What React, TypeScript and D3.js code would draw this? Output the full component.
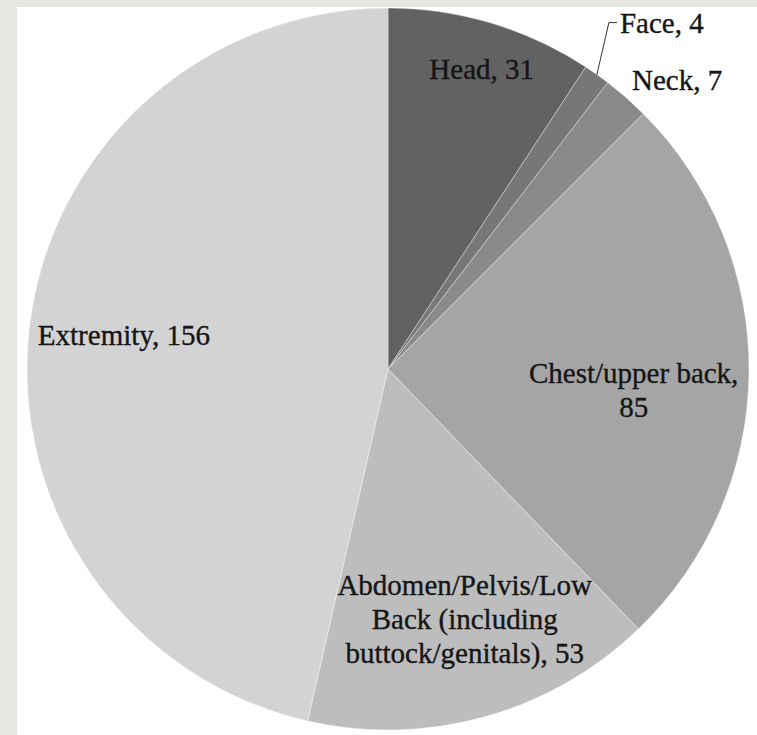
import React from "react";
import * as d3 from "d3";

const categories = ["Head", "Face", "Neck", "Chest/upper back", "Abdomen/Pelvis/Low Back (including buttock/genitals)", "Extremity"];
const values = [31, 4, 7, 85, 53, 156];
const labelLines = [
  ["Head, 31"],
  ["Face, 4"],
  ["Neck, 7"],
  ["Chest/upper back,", "85"],
  ["Abdomen/Pelvis/Low", "Back (including", "buttock/genitals), 53"],
  ["Extremity, 156"],
];
const colors = ["#626262", "#777777", "#898989", "#a5a5a5", "#bdbdbd", "#d3d3d3"];

// label layout: radial fraction, offsets, anchor
const labelLayout = [
  { k: 0.85, dx: 6, dy: 4, anchor: "middle", leader: false },
  { k: 1.0, dx: 23, dy: -42, anchor: "start", leader: true },
  { k: 1.0, dx: 6, dy: -8, anchor: "start", leader: false },
  { k: 0.7, dx: -7, dy: 12, anchor: "middle", leader: false },
  { k: 0.7, dx: 9, dy: -17, anchor: "middle", leader: false },
  { k: 0.7, dx: -13, dy: 4, anchor: "middle", leader: false },
];

const W = 757;
const H = 735;
const cx = 388;
const cy = 369;
const R = 361;
const lineH = 34;
const FONT = "'Liberation Serif', 'Times New Roman', serif";

export default function App() {
  const pie = d3.pie<number>().sort(null).value((d) => d)(values);
  const arc = d3.arc<d3.PieArcDatum<number>>().innerRadius(0).outerRadius(R);
  const polar = (a: number, r: number): [number, number] => [r * Math.sin(a), -r * Math.cos(a)];

  return (
    <svg width={W} height={H} style={{ position: "absolute", left: 0, top: 0, display: "block" }}>
      <rect x={0} y={0} width={W} height={H} fill="#e7e7e2" />
      <rect x={17} y={7} width={W - 17} height={H - 7} fill="#ffffff" />
      <g transform={`translate(${cx},${cy})`}>
        {pie.map((p, i) => (
          <path key={categories[i]} d={arc(p) || ""} fill={colors[i]} stroke="#ffffff" strokeOpacity={0.35} strokeWidth={1} />
        ))}
        {pie.map((p, i) => {
          const mid = (p.startAngle + p.endAngle) / 2;
          const L = labelLayout[i];
          const [bx, by] = polar(mid, R * L.k);
          const x = bx + L.dx;
          const y = by + L.dy;
          const lines = labelLines[i];
          let leader = null;
          if (L.leader) {
            const [ex, ey] = polar(mid, R);
            const ty = y - 10;
            leader = <polyline points={`${ex},${ey} ${x - 11},${ty} ${x - 3},${ty}`} fill="none" stroke="#333" strokeWidth={1} />;
          }
          return (
            <g key={"lab" + i}>
              {leader}
              <text
                x={x}
                y={y}
                textAnchor={L.anchor}
                style={{ fontFamily: FONT, fontSize: "29px" }}
                fill="#151515"
                stroke="#151515"
                strokeWidth={0.35}
              >
                {lines.map((ln, j) => (
                  <tspan key={j} x={x} y={y + j * lineH}>{ln}</tspan>
                ))}
              </text>
            </g>
          );
        })}
      </g>
    </svg>
  );
}
